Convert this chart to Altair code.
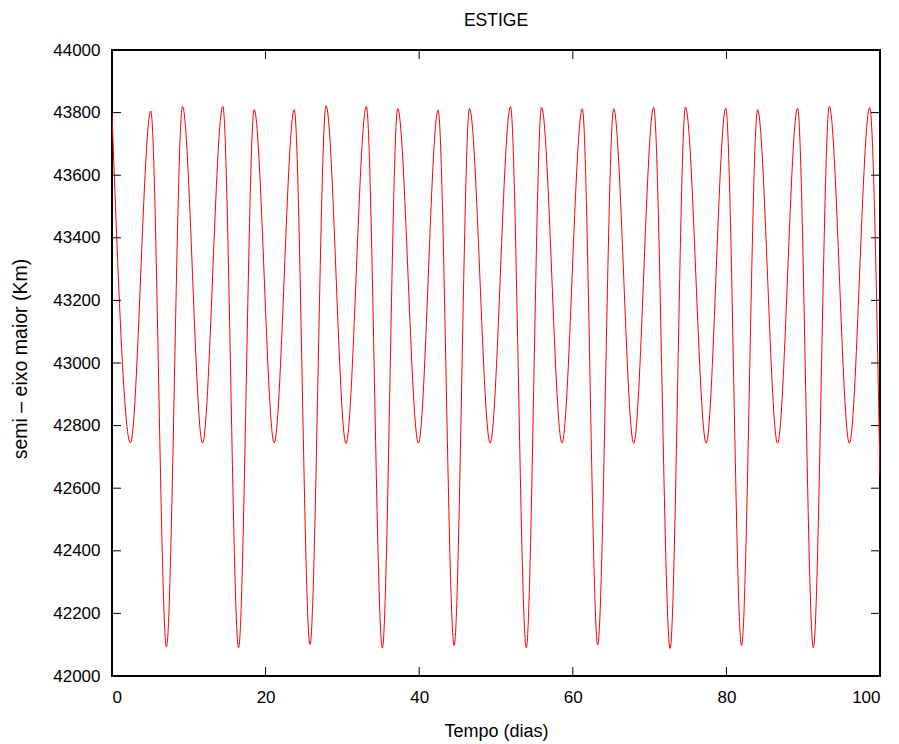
import altair as alt
import pandas as pd

# Extrema of the curve (tempo in days, semi-eixo in km)
tempo = [0.0, 2.40, 5.05, 7.09, 9.18, 11.79, 14.43, 16.48, 18.51, 21.12,
         23.73, 25.78, 27.87, 30.47, 33.12, 35.20, 37.20, 39.90, 42.46, 44.55,
         46.55, 49.24, 51.89, 53.94, 55.93, 58.59, 61.24, 63.24, 65.32, 67.93,
         70.53, 72.67, 74.67, 77.37, 79.92, 81.97, 84.06, 86.66, 89.27, 91.32,
         93.40, 96.01, 98.66, 100.0]
semi_eixo = [43795, 42745, 43805, 42093, 43820, 42744, 43820, 42090, 43810, 42745,
             43809, 42100, 43822, 42743, 43820, 42089, 43813, 42744, 43808, 42097,
             43813, 42744, 43819, 42090, 43817, 42745, 43812, 42099, 43812, 42744,
             43817, 42088, 43818, 42744, 43814, 42097, 43809, 42744, 43814, 42090,
             43820, 42744, 43816, 42640]

x_ticks = [0, 20, 40, 60, 80, 100]
y_ticks = [42000, 42200, 42400, 42600, 42800, 43000, 43200, 43400, 43600, 43800, 44000]

W, H = 768, 626
FONT = "Liberation Sans"

df = pd.DataFrame({"t": tempo, "a": semi_eixo})
xt = pd.DataFrame({"t": x_ticks})
yt = pd.DataFrame({"a": y_ticks})

x_scale = alt.Scale(domain=[0, 100], nice=False, zero=False)
y_scale = alt.Scale(domain=[42000, 44000], nice=False, zero=False)

x_axis = alt.Axis(
    title="Tempo (dias)", values=x_ticks, format="d", ticks=False, tickSize=0,
    domain=False, grid=False, labelPadding=13, titleY=60, titleFontSize=18,
    titleBaseline="alphabetic")
y_axis = alt.Axis(
    title="semi – eixo maior (Km)", values=y_ticks, format="d", ticks=False,
    tickSize=0, domain=False, grid=False, labelPadding=12, titleX=-86,
    titleY=308.5, titleAngle=270, titleBaseline="alphabetic", titleFontSize=19.5)

line = alt.Chart(df).mark_line(
    color="#ff0000", strokeWidth=1, interpolate="monotone", clip=True
).encode(
    x=alt.X("t:Q", scale=x_scale, axis=x_axis),
    y=alt.Y("a:Q", scale=y_scale, axis=y_axis),
)

tick_style = dict(color="black", strokeWidth=1)
left_ticks = alt.Chart(yt).mark_rule(**tick_style).encode(
    y=alt.Y("a:Q", scale=y_scale, axis=y_axis), x=alt.value(0), x2=alt.value(9))
right_ticks = alt.Chart(yt).mark_rule(**tick_style).encode(
    y=alt.Y("a:Q", scale=y_scale, axis=y_axis), x=alt.value(W - 9), x2=alt.value(W))
bottom_ticks = alt.Chart(xt).mark_rule(**tick_style).encode(
    x=alt.X("t:Q", scale=x_scale, axis=x_axis), y=alt.value(H - 9), y2=alt.value(H))
top_ticks = alt.Chart(xt).mark_rule(**tick_style).encode(
    x=alt.X("t:Q", scale=x_scale, axis=x_axis), y=alt.value(0), y2=alt.value(9))

chart = alt.layer(line, left_ticks, right_ticks, bottom_ticks, top_ticks).properties(
    width=W, height=H,
    background="white",
    autosize=alt.AutoSizeParams(type="none"),
    padding={"left": 112, "top": 50, "right": 19, "bottom": 68},
    title=alt.TitleParams(text="ESTIGE", font=FONT, fontSize=17.5, fontWeight="normal",
                          color="black", baseline="alphabetic", offset=-2.5,
                          anchor="middle", frame="group"),
).configure_view(
    stroke="black", strokeWidth=2
).configure_axis(
    labelFont=FONT, labelFontSize=17, labelColor="black",
    titleFont=FONT, titleFontSize=17, titleFontWeight="normal", titleColor="black",
)

chart.save("out.html", embed_options={"renderer": "svg", "actions": False})
